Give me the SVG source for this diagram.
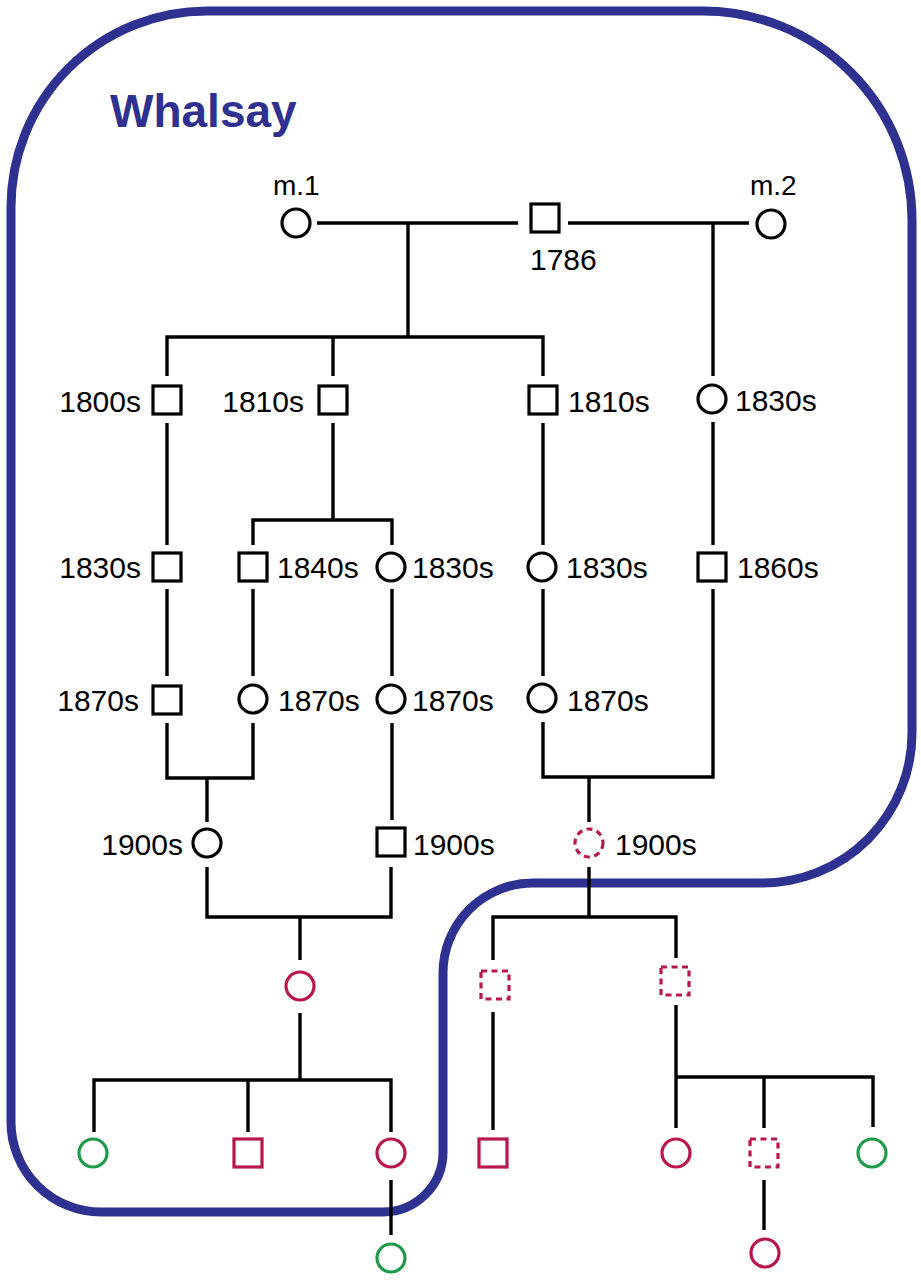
<svg xmlns="http://www.w3.org/2000/svg" width="921" height="1280" viewBox="0 0 921 1280">
<style>
.ln{stroke:#000;stroke-width:3.4;fill:none}
.k{stroke:#000;stroke-width:3.2;fill:#fff}
.r{stroke:#b8164c;stroke-width:3.2;fill:#fff}
.rd{stroke:#b8164c;stroke-width:3.2;fill:#fff;stroke-dasharray:6 4.5}
.g{stroke:#1f9a48;stroke-width:3.2;fill:#fff}
.t{font-family:"Liberation Sans",Arial,Helvetica,sans-serif;font-size:30px;fill:#000}
.e{text-anchor:end}
.border{stroke:#2e3190;stroke-width:9;fill:none}
</style>
<rect width="921" height="1280" fill="#fff"/>
<g id="region">
<path class="border" d="M207,11 H703 A209 209 0 0 1 912,220 V732 A150 150 0 0 1 762,883 H533 A90 90 0 0 0 443,973 V1152 A60 60 0 0 1 383,1212 H101 A90 90 0 0 1 11,1122 V207 A196 196 0 0 1 207,11 Z"/>
<text x="110" y="127" style="font-family:'Liberation Sans',Arial,Helvetica,sans-serif;font-size:46px;font-weight:bold;fill:#2e3190">Whalsay</text>
</g>
<g id="connectors">
<path class="ln" d="M317,223 H518 M568,223 H749 M408,223 V337 M713,223 V376"/>
<path class="ln" d="M167,376 V337 H543 V376 M333,337 V376"/>
<path class="ln" d="M167,423 V545 M333,423 V520 M253,545 V520 H392 V545 M543,423 V545 M713,422 V545"/>
<path class="ln" d="M167,589 V676 M253,589 V676 M392,589 V676 M543,589 V676 M713,589 V777 H543 V722"/>
<path class="ln" d="M167,723 V778 H253 V723 M207,778 V822 M392,723 V820 M589,777 V822"/>
<path class="ln" d="M207,867 V917 H391 V867 M300,917 V960 M589,867 V917 M493,960 V917 H676 V958"/>
<path class="ln" d="M300,1013 V1080 M94,1132 V1080 H391 V1132 M248,1080 V1132 M493,1012 V1130 M676,1005 V1128 M676,1077 H873 V1127 M764,1077 V1128"/>
<path class="ln" d="M391,1180 V1235 M764,1180 V1230"/>
</g>
<g id="n-m1"><circle class="k" cx="296" cy="223" r="14"/><text class="t" x="273" y="195" style="font-size:28px">m.1</text></g>
<g id="n-1786"><rect class="k" x="531" y="204" width="28" height="28"/><text class="t" x="530" y="270">1786</text></g>
<g id="n-m2"><circle class="k" cx="771" cy="224" r="14"/><text class="t" x="750" y="195" style="font-size:28px">m.2</text></g>

<g id="n-1800s"><rect class="k" x="153" y="386" width="28" height="28"/><text class="t e" x="141" y="412">1800s</text></g>
<g id="n-1810s-a"><rect class="k" x="319" y="386" width="28" height="28"/><text class="t e" x="304" y="412">1810s</text></g>
<g id="n-1810s-b"><rect class="k" x="529" y="386" width="28" height="28"/><text class="t" x="568" y="412">1810s</text></g>
<g id="n-1830s-a"><circle class="k" cx="712" cy="399" r="14"/><text class="t" x="735" y="411">1830s</text></g>

<g id="n-1830s-b"><rect class="k" x="153" y="553" width="28" height="28"/><text class="t e" x="141" y="578">1830s</text></g>
<g id="n-1840s"><rect class="k" x="239" y="553" width="28" height="28"/><text class="t" x="277" y="578">1840s</text></g>
<g id="n-1830s-c"><circle class="k" cx="391" cy="567" r="14"/><text class="t" x="412" y="578">1830s</text></g>
<g id="n-1830s-d"><circle class="k" cx="542" cy="567" r="14"/><text class="t" x="566" y="578">1830s</text></g>
<g id="n-1860s"><rect class="k" x="698" y="553" width="28" height="28"/><text class="t" x="737" y="578">1860s</text></g>

<g id="n-1870s-a"><rect class="k" x="153" y="686" width="28" height="28"/><text class="t e" x="139" y="711">1870s</text></g>
<g id="n-1870s-b"><circle class="k" cx="253" cy="699" r="14"/><text class="t" x="278" y="711">1870s</text></g>
<g id="n-1870s-c"><circle class="k" cx="391" cy="699" r="14"/><text class="t" x="412" y="711">1870s</text></g>
<g id="n-1870s-d"><circle class="k" cx="542" cy="698" r="14"/><text class="t" x="567" y="711">1870s</text></g>

<g id="n-1900s-a"><circle class="k" cx="207" cy="843" r="14"/><text class="t e" x="183" y="855">1900s</text></g>
<g id="n-1900s-b"><rect class="k" x="377" y="828" width="28" height="28"/><text class="t" x="413" y="855">1900s</text></g>
<g id="n-1900s-c"><circle class="rd" cx="589" cy="843" r="14"/><text class="t" x="615" y="855">1900s</text></g>

<g id="n-r1"><circle class="r" cx="300" cy="986" r="14"/></g>
<g id="n-d1"><rect class="rd" x="481" y="971" width="28" height="28"/></g>
<g id="n-d2"><rect class="rd" x="661" y="967" width="28" height="28"/></g>

<g id="n-g1"><circle class="g" cx="93" cy="1153" r="14"/></g>
<g id="n-rs1"><rect class="r" x="234" y="1139" width="28" height="28"/></g>
<g id="n-r2"><circle class="r" cx="391" cy="1153" r="14"/></g>
<g id="n-rs2"><rect class="r" x="479" y="1139" width="28" height="28"/></g>
<g id="n-r3"><circle class="r" cx="676" cy="1153" r="14"/></g>
<g id="n-d3"><rect class="rd" x="750" y="1139" width="28" height="28"/></g>
<g id="n-g2"><circle class="g" cx="872" cy="1153" r="14"/></g>

<g id="n-g3"><circle class="g" cx="391" cy="1258" r="14"/></g>
<g id="n-r4"><circle class="r" cx="765" cy="1253" r="14"/></g>
</svg>
